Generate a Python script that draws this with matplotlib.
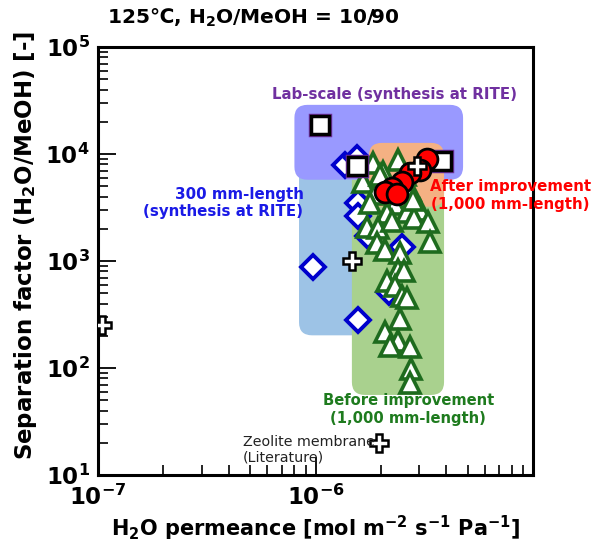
import matplotlib
matplotlib.use("Agg")
import matplotlib.pyplot as plt
from matplotlib.patches import FancyBboxPatch
from matplotlib.ticker import LogLocator, FixedLocator, NullFormatter

plt.rcParams['font.family'] = ['DejaVu Sans', 'Noto Sans CJK JP']
plt.rcParams['mathtext.fontset'] = 'dejavusans'
plt.rcParams['mathtext.default'] = 'bf'

# ---------------- data ----------------
# Lab-scale (synthesis at RITE): squares
lab_x = [1.05e-6, 1.55e-6, 3.8e-6]
lab_y = [1.85e4, 7.8e3, 8.6e3]

# 300 mm-length (synthesis at RITE): diamonds
d300_x = [1.37e-6, 1.55e-6, 1.57e-6, 1.57e-6, 0.97e-6, 1.57e-6, 2.5e-6, 2.18e-6, 1.74e-6]
d300_y = [7.9e3, 9.2e3, 3.5e3, 2.66e3, 870, 279, 1.34e3, 508, 1.73e3]

# Before improvement (1,000 mm-length): triangles
before_x = [1.84e-6, 2.40e-6, 2.04e-6, 1.65e-6, 2.72e-6, 1.88e-6, 2.32e-6, 1.78e-6,
            2.13e-6, 2.64e-6, 3.02e-6, 1.73e-6, 1.94e-6, 2.25e-6, 2.84e-6, 3.29e-6,
            3.36e-6, 1.92e-6, 2.09e-6, 2.45e-6, 2.40e-6, 2.55e-6, 2.13e-6, 2.32e-6,
            2.50e-6, 2.64e-6, 2.45e-6, 2.09e-6, 2.40e-6, 2.20e-6, 2.72e-6, 2.75e-6,
            2.72e-6, 1.98e-6, 2.58e-6, 2.81e-6]
before_y = [8.3e3, 8.8e3, 6.8e3, 5.5e3, 4.6e3, 4.2e3, 3.4e3, 3.5e3,
            2.8e3, 2.9e3, 3.0e3, 2.1e3, 2.05e3, 2.35e3, 2.5e3, 2.3e3,
            1.5e3, 1.46e3, 1.28e3, 1.2e3, 830, 800, 645, 590,
            467, 447, 285, 215, 178, 160, 156, 97,
            72, 6.4e3, 6.4e3, 3.74e3]

# After improvement (1,000 mm-length): circles
after_x = [3.26e-6, 3.02e-6, 2.72e-6, 2.50e-6, 2.25e-6, 2.09e-6, 2.37e-6]
after_y = [9.0e3, 7.1e3, 6.7e3, 5.5e3, 4.8e3, 4.45e3, 4.26e3]

# Zeolite membrane (Literature): crosses
lit_x = [1.04e-7, 1.47e-6, 2.93e-6, 1.96e-6]
lit_y = [250, 1.0e3, 7.8e3, 20]

# shaded regions: (x0, x1, y0, y1)
region_lightblue = (8.4e-7, 2.0e-6, 202, 8.0e3)
region_green = (1.47e-6, 3.9e-6, 56, 8.0e3)
region_purple = (8.0e-7, 4.77e-6, 5.75e3, 2.88e4)
region_orange = (1.76e-6, 3.9e-6, 3.22e3, 1.27e4)

xticks = [1e-7, 1e-6, 1e-5]
xticklabels = [r'$10^{-7}$', r'$10^{-6}$', '']
yticks = [1e1, 1e2, 1e3, 1e4, 1e5]
yticklabels = [r'$10^{1}$', r'$10^{2}$', r'$10^{3}$', r'$10^{4}$', r'$10^{5}$']

# ---------------- figure ----------------
fig = plt.figure(figsize=(5.99, 5.43), dpi=100)
ax = fig.add_axes([98/599, 1-475/543, (533-98)/599, (475-47)/543])
ax.set_xscale('log')
ax.set_yscale('log')
ax.set_xlim(1e-7, 1e-5)
ax.set_ylim(1e1, 1e5)

to_axes = ax.transData + ax.transAxes.inverted()

def add_region(reg, color, z):
    x0, x1, y0, y1 = reg
    (ax0, ay0) = to_axes.transform((x0, y0))
    (ax1, ay1) = to_axes.transform((x1, y1))
    p = FancyBboxPatch((ax0, ay0), ax1 - ax0, ay1 - ay0,
                       boxstyle="round,pad=0,rounding_size=0.03",
                       transform=ax.transAxes, facecolor=color,
                       edgecolor='none', zorder=z)
    ax.add_patch(p)

add_region(region_lightblue, '#9dc3e6', 1)
add_region(region_green, '#a9d18e', 1.1)
add_region(region_purple, '#9999ff', 1.2)
add_region(region_orange, '#f4b183', 1.3)

ax.plot(d300_x, d300_y, 'D', ms=12, mfc='white', mec='#0000cc', mew=2.8,
        linestyle='none', zorder=3)
ax.plot(before_x, before_y, '^', ms=14, mfc='white', mec='#1e6b1e', mew=2.6,
        linestyle='none', zorder=4)
ax.plot(lab_x, lab_y, 's', ms=15, mfc='#7030a0', mec='#7030a0', mew=2.5,
        linestyle='none', zorder=5)
ax.plot(lab_x, lab_y, 's', ms=13, mfc='white', mec='black', mew=2.5,
        linestyle='none', zorder=5.1)
ax.plot(after_x, after_y, 'o', ms=15, mfc='#ff0000', mec='black', mew=2.0,
        linestyle='none', zorder=6)
ax.plot(lit_x, lit_y, 'P', ms=13, mfc='white', mec='black', mew=1.8,
        linestyle='none', zorder=7)

# axes styling
for sp in ax.spines.values():
    sp.set_linewidth(2.2)
ax.xaxis.set_major_locator(FixedLocator(xticks))
ax.yaxis.set_major_locator(FixedLocator(yticks))
ax.set_xticklabels(xticklabels)
ax.set_yticklabels(yticklabels)
ax.xaxis.set_minor_locator(LogLocator(base=10, subs=range(2, 10), numticks=20))
ax.yaxis.set_minor_locator(LogLocator(base=10, subs=range(2, 10), numticks=20))
ax.xaxis.set_minor_formatter(NullFormatter())
ax.yaxis.set_minor_formatter(NullFormatter())
ax.tick_params(which='major', direction='in', length=13, width=1.3,
               labelsize=16.5, top=False, right=False)
ax.tick_params(axis='x', which='major', pad=7)
ax.tick_params(axis='y', which='major', pad=6)
ax.tick_params(which='minor', direction='in', length=7, width=1.2,
               top=False, right=False)

ax.set_xlabel(r'H$_2$O permeance [mol m$^{-2}$ s$^{-1}$ Pa$^{-1}$]',
              fontsize=15, fontweight='bold', labelpad=3)
ax.set_ylabel(r'Separation factor (H$_2$O/MeOH) [-]',
              fontsize=16.5, fontweight='bold')
ax.yaxis.set_label_coords(-0.136, 0.537)

fig.text(107/599, 1-18/543, r'125℃, H$_2$O/MeOH = 10/90', fontsize=14.5,
         fontweight='bold', va='center', ha='left')

ax.text(2.32e-6, 3.57e4, 'Lab-scale (synthesis at RITE)', color='#7030a0',
        fontsize=10.8, fontweight='bold', ha='center', va='center', zorder=8)
ax.text(8.8e-7, 3.5e3, '300 mm-length\n(synthesis at RITE)', color='#1a1ae6',
        fontsize=10.8, fontweight='bold', ha='right', va='center',
        multialignment='right', zorder=8)
ax.text(7.9e-6, 4.1e3, 'After improvement\n(1,000 mm-length)', color='#ff0000',
        fontsize=10.8, fontweight='bold', ha='center', va='center',
        multialignment='center', zorder=8, clip_on=False)
ax.text(2.67e-6, 41, 'Before improvement\n(1,000 mm-length)', color='#1e7b1e',
        fontsize=10.6, fontweight='bold', ha='center', va='center',
        multialignment='center', zorder=8)
ax.text(4.64e-7, 23.5, 'Zeolite membrane\n(Literature)', color='#222222',
        fontsize=10.3, ha='left', va='top', zorder=8, linespacing=1.12)

fig.savefig('out.png', dpi=100)
